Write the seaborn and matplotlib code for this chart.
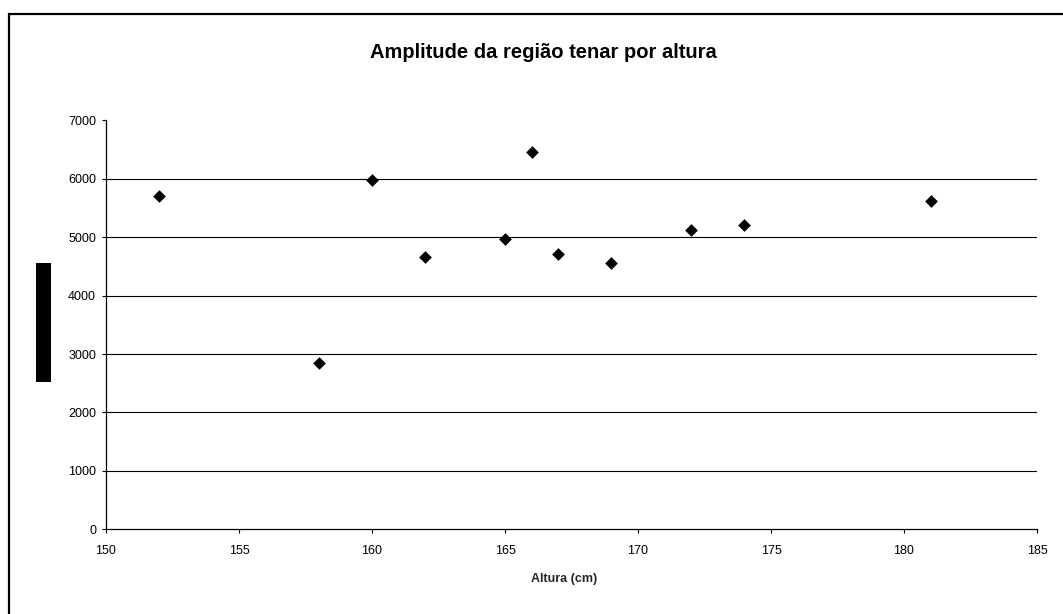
import matplotlib
matplotlib.use("Agg")
import matplotlib.pyplot as plt
from matplotlib.patches import Rectangle
import pandas as pd
import seaborn as sns

# Height (cm) and thenar-region amplitude per subject
altura = [152, 158, 160, 162, 165, 166, 167, 169, 172, 174, 181]
amplitude = [5700, 2850, 5980, 4660, 4970, 6455, 4715, 4555, 5125, 5215, 5630]

x_ticks = [150, 155, 160, 165, 170, 175, 180, 185]
y_ticks = [0, 1000, 2000, 3000, 4000, 5000, 6000, 7000]

titulo = "Amplitude da região tenar por altura"
rotulo_x = "Altura (cm)"

df = pd.DataFrame({"altura": altura, "amplitude": amplitude})

sns.set_theme(style="white")
plt.rcParams["font.family"] = ["Liberation Sans", "DejaVu Sans"]

W, H = 1063, 614
L, R, T, B = 106, 1037, 120.5, 529.3
fig = plt.figure(figsize=(W / 100, H / 100), dpi=100)
fig.patch.set_facecolor("white")
ax = fig.add_axes([L / W, 1 - B / H, (R - L) / W, (B - T) / H])
ax.set_facecolor("white")

# horizontal gridlines (no line at the top of the plot area)
for v in y_ticks[1:-1]:
    ax.axhline(v, color="black", lw=0.8, zorder=1)

sns.scatterplot(data=df, x="altura", y="amplitude", marker="D", s=42,
                color="black", edgecolor="black", linewidth=0, ax=ax, zorder=3)

ax.set_xlim(150, 185)
ax.set_ylim(0, 7000)
ax.set_xticks(x_ticks)
ax.set_yticks(y_ticks)
ax.tick_params(axis="both", which="major", direction="out", length=2.9, width=0.8,
               color="black", labelsize=9, labelcolor="black", bottom=True, left=True)
ax.tick_params(axis="x", pad=8.5)
ax.tick_params(axis="y", pad=4.3)

for side in ("top", "right"):
    ax.spines[side].set_visible(False)
for side in ("left", "bottom"):
    ax.spines[side].set_color("black")
    ax.spines[side].set_linewidth(0.9)

ax.set_ylabel("")
ax.set_xlabel(rotulo_x, fontsize=9, fontweight="bold", va="center")
ax.xaxis.set_label_coords((564 - L) / (R - L), (B - 579) / (B - T))

fig.text(543 / W, 1 - 53 / H, titulo, ha="center", va="center",
         fontsize=14.5, fontweight="bold", color="black")

# blacked-out y-axis label block
fig.patches.append(Rectangle((36 / W, 1 - 382 / H), 15 / W, 119 / H,
                             transform=fig.transFigure, facecolor="black",
                             edgecolor="none"))

# chart-area frame (runs off the right and bottom edges)
fig.patches.append(Rectangle((9 / W, -0.1), 1.2, 1.1 - 14 / H,
                             transform=fig.transFigure, facecolor="none",
                             edgecolor="black", linewidth=1.6))

fig.savefig("out.png", dpi=100, facecolor="white")
